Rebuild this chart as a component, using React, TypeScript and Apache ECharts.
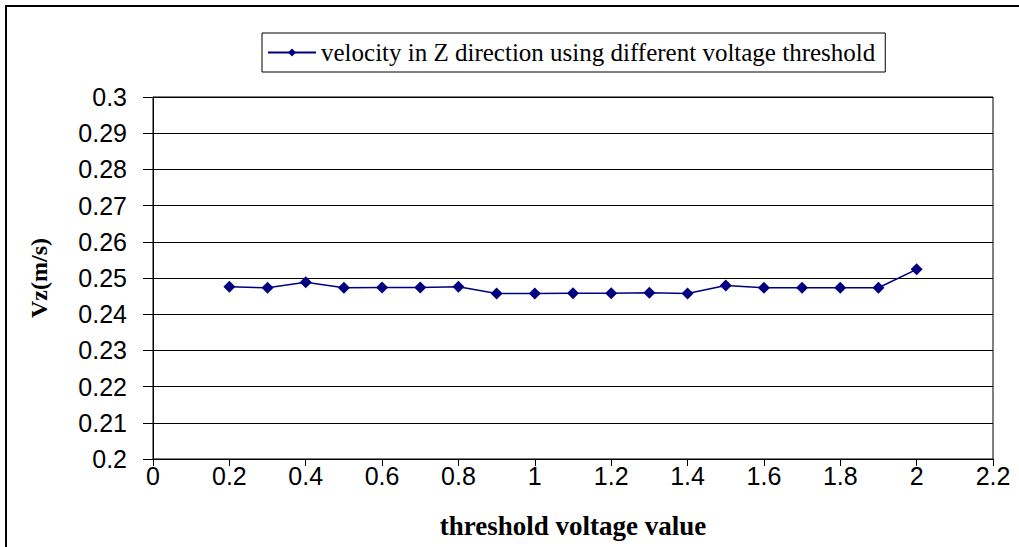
import React, { useEffect, useRef } from "react";
import * as echarts from "echarts";

const thresholds = [0.2, 0.3, 0.4, 0.5, 0.6, 0.7, 0.8, 0.9, 1.0, 1.1, 1.2, 1.3, 1.4, 1.5, 1.6, 1.7, 1.8, 1.9, 2.0];
const velocities = [0.2476, 0.2473, 0.2488, 0.2473, 0.2474, 0.2474, 0.2476, 0.2457, 0.2457, 0.2458, 0.2458, 0.2459, 0.2457, 0.2479, 0.2473, 0.2473, 0.2473, 0.2473, 0.2524];
const seriesName = "velocity in Z direction using different voltage threshold";
const xTitle = "threshold voltage value";
const yTitle = "Vz(m/s)";

export default function App() {
  const ref = useRef<HTMLDivElement>(null);
  useEffect(() => {
    document.body.style.margin = "0";
    const chart = echarts.init(ref.current!, null, { renderer: "svg" });
    chart.setOption({
      animation: false,
      backgroundColor: "#fff",
      graphic: [
        {
          type: "rect",
          shape: { x: 6, y: 6, width: 1040, height: 620 },
          style: { fill: "none", stroke: "#000", lineWidth: 2 },
          z: 100,
        },
      ],
      legend: {
        left: 262,
        top: 33,
        itemWidth: 48,
        itemHeight: 10,
        itemGap: 8,
        padding: [7, 10, 7, 5],
        borderColor: "#000",
        borderWidth: 1,
        textStyle: { fontFamily: "Liberation Serif", fontSize: 25, color: "#000" },
        data: [seriesName],
      },
      grid: {
        left: 153,
        right: 26,
        top: 97,
        bottom: 88,
        show: true,
        borderColor: "#000",
        borderWidth: 1,
        backgroundColor: "transparent",
      },
      xAxis: {
        type: "value",
        min: 0,
        max: 2.2,
        interval: 0.2,
        name: xTitle,
        nameLocation: "middle",
        nameGap: 53,
        nameTextStyle: { fontFamily: "Liberation Serif", fontWeight: "bold", fontSize: 27, color: "#000" },
        axisLine: { show: true, onZero: false, lineStyle: { color: "#000", width: 1 } },
        axisTick: { show: true, length: 7, lineStyle: { color: "#000" } },
        axisLabel: {
          fontFamily: "Liberation Sans",
          fontSize: 25,
          color: "#000",
          margin: 4,
          formatter: (v: number) => String(parseFloat(v.toFixed(1))),
        },
        splitLine: { show: false },
      },
      yAxis: {
        type: "value",
        min: 0.2,
        max: 0.3,
        interval: 0.01,
        name: yTitle,
        nameLocation: "middle",
        nameGap: 102,
        nameTextStyle: { fontFamily: "Liberation Serif", fontWeight: "bold", fontSize: 24, color: "#000" },
        axisLine: { show: true, lineStyle: { color: "#000", width: 1 } },
        axisTick: { show: true, length: 10, lineStyle: { color: "#000" } },
        axisLabel: {
          fontFamily: "Liberation Sans",
          fontSize: 25,
          color: "#000",
          margin: 26,
          formatter: (v: number) => String(parseFloat(v.toFixed(2))),
        },
        splitLine: { show: true, lineStyle: { color: "#000", width: 1 } },
      },
      series: [
        {
          name: seriesName,
          type: "line",
          data: thresholds.map((t, i) => [t, velocities[i]]),
          symbol: "diamond",
          symbolSize: 12,
          itemStyle: { color: "#000080" },
          lineStyle: { color: "#000080", width: 1.5 },
        },
      ],
    });
    return () => chart.dispose();
  }, []);
  return <div ref={ref} style={{ width: 1019, height: 547 }} />;
}
